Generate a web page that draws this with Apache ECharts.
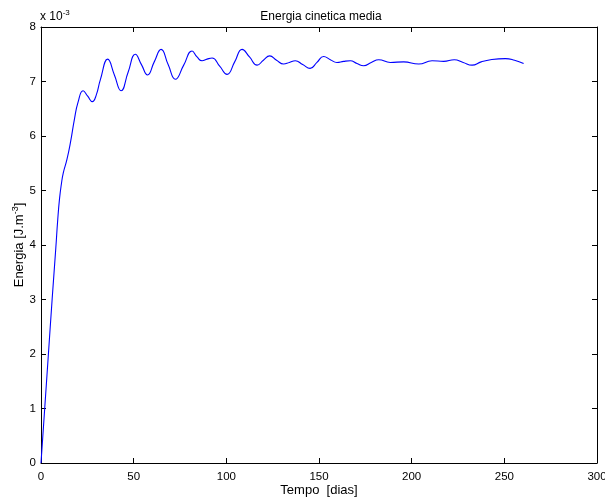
<!DOCTYPE html>
<html>
<head>
<meta charset="utf-8">
<script src="https://cdn.jsdelivr.net/npm/echarts@6/dist/echarts.min.js"></script>
<style>
  html, body { margin: 0; padding: 0; background: #fff; }
  #chart { width: 605px; height: 499px; }
</style>
</head>
<body>
<div id="chart"></div>
<script>
// tempo [dias] e energia (x 10^-3)
var tempo = [0, 2, 4, 6, 8, 9, 10, 11, 12, 14, 16, 18, 20, 22.7, 25.2, 27.7, 29.8, 32,
  36, 39.6, 43.2, 47, 50.9, 54.2, 57.5, 61.1, 64.8, 68.6, 72.5, 77, 81.5, 84.2, 86.9, 89.6, 92.3,
  96.4, 100.4, 104.5, 108.5, 112.5, 116.6, 120, 123.4, 127.1, 130.9, 134, 137.2, 141.2, 145.2,
  148.9, 152.5, 156.1, 159.7, 163.3, 166.9, 170.5, 174.1, 178.2, 182.2, 188.5, 195.7, 203.8,
  211, 217.3, 223, 227.8, 232.6, 237.5, 242.5, 250.6, 255.5, 260.4];
var energia = [0, 1.0, 2.0, 3.0, 3.95, 4.45, 4.85, 5.12, 5.32, 5.57, 5.9, 6.3, 6.62, 6.83, 6.73, 6.63, 6.75, 7.03,
  7.41, 7.12, 6.83, 7.17, 7.50, 7.31, 7.12, 7.36, 7.59, 7.31, 7.04, 7.30, 7.56, 7.45, 7.38, 7.41, 7.43,
  7.28, 7.13, 7.36, 7.59, 7.45, 7.30, 7.39, 7.47, 7.39, 7.32, 7.35, 7.38, 7.31, 7.24,
  7.35, 7.46, 7.40, 7.35, 7.37, 7.38, 7.33, 7.29, 7.35, 7.40, 7.35, 7.36, 7.32,
  7.38, 7.37, 7.40, 7.35, 7.30, 7.36, 7.40, 7.42, 7.39, 7.33];
var xTicks = [0, 50, 100, 150, 200, 250, 300];
var yTicks = [0, 1, 2, 3, 4, 5, 6, 7, 8];

var serie = tempo.map(function (t, i) { return [t, energia[i]]; });

var chart = echarts.init(document.getElementById('chart'));
var fonte = 'Liberation Sans, Arial, sans-serif';

function eixo() { return { onZero: false, lineStyle: { color: '#000', width: 1 } }; }
function tick() { return { show: true, inside: true, length: 5, lineStyle: { color: '#000' } }; }

var option = {
  animation: false,
  title: {
    text: 'Energia cinetica media',
    left: 316, top: 6, textAlign: 'center',
    textStyle: { fontFamily: fonte, fontSize: 12, fontWeight: 'normal', color: '#000' }
  },
  grid: { left: 41, right: 8, top: 27, bottom: 36, outerBoundsMode: 'none' },
  xAxis: [{
    type: 'value', min: xTicks[0], max: xTicks[xTicks.length - 1], interval: 50,
    name: 'Tempo  [dias]', nameLocation: 'middle', nameGap: 21, nameMoveOverlap: false,
    nameTextStyle: { fontFamily: fonte, fontSize: 13, color: '#000' },
    axisLine: eixo(), axisTick: tick(), splitLine: { show: false },
    axisLabel: { fontFamily: fonte, fontSize: 11.5, color: '#000', margin: 8 }
  }, {
    type: 'value', position: 'top', min: xTicks[0], max: xTicks[xTicks.length - 1], interval: 50,
    axisLine: eixo(), axisTick: tick(), axisLabel: { show: false }, splitLine: { show: false }
  }],
  yAxis: [{
    type: 'value', min: yTicks[0], max: yTicks[yTicks.length - 1], interval: 1,
    name: '{n|Energia [J.m}{s|-3}{n|]}', nameLocation: 'middle', nameGap: 14, nameMoveOverlap: false,
    nameTextStyle: {
      rich: {
        n: { fontFamily: fonte, fontSize: 13, color: '#000' },
        s: { fontFamily: fonte, fontSize: 9, color: '#000', verticalAlign: 'top', padding: [0, 0, 7, 0] }
      }
    },
    axisLine: eixo(), axisTick: tick(), splitLine: { show: false },
    axisLabel: { fontFamily: fonte, fontSize: 11.5, color: '#000', margin: 5 }
  }, {
    type: 'value', position: 'right', min: yTicks[0], max: yTicks[yTicks.length - 1], interval: 1,
    axisLine: eixo(), axisTick: tick(), axisLabel: { show: false }, splitLine: { show: false }
  }],
  graphic: [{
    type: 'text', left: 40, top: 9,
    style: {
      text: '{n|x 10}{s|-3}',
      rich: {
        n: { fontFamily: fonte, fontSize: 12, fill: '#000' },
        s: { fontFamily: fonte, fontSize: 8, fill: '#000', verticalAlign: 'top', padding: [0, 0, 7, 0] }
      }
    }
  }],
  series: [{
    type: 'line', data: serie, smooth: 0.5, showSymbol: false,
    lineStyle: { color: '#0000ff', width: 1.1 }
  }]
};
chart.setOption(option);
</script>
</body>
</html>
